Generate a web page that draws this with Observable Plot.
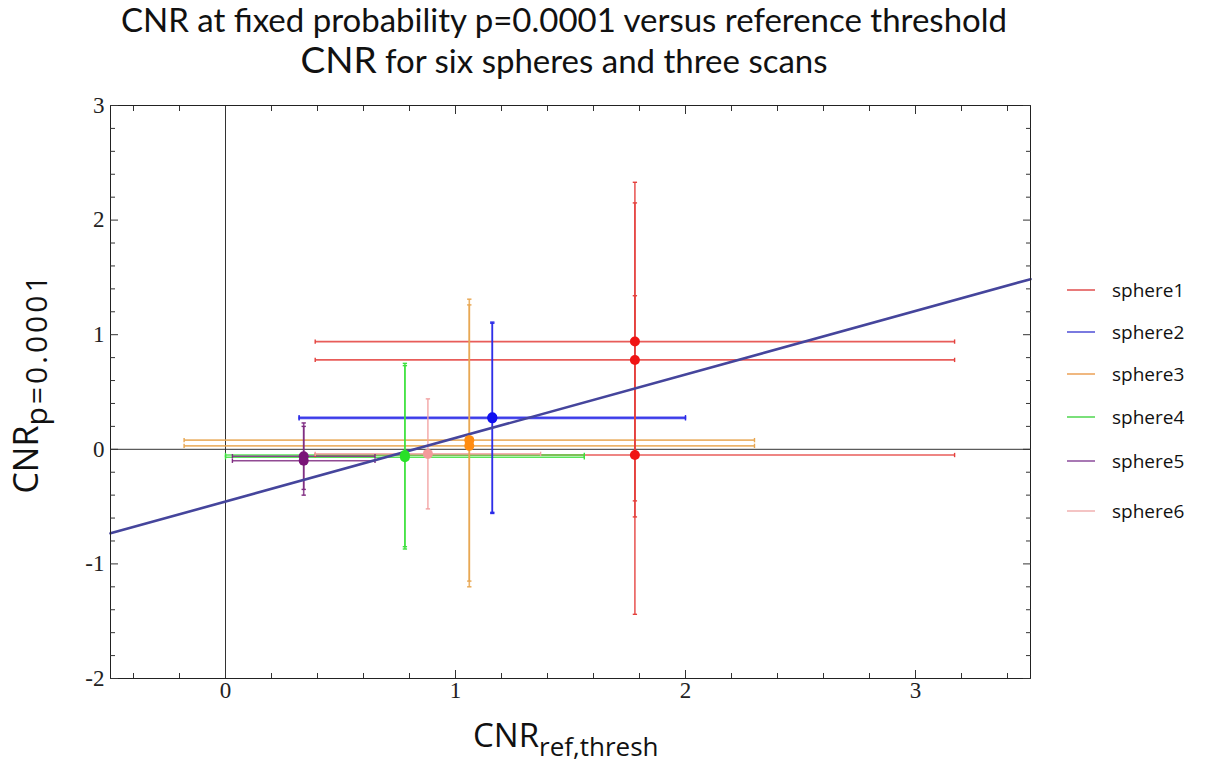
<!DOCTYPE html>
<html><head><meta charset="utf-8">
<script src="https://cdn.jsdelivr.net/npm/d3@7"></script>
<script src="https://cdn.jsdelivr.net/npm/@observablehq/plot@0.6"></script>
<style>
body{margin:0;background:#fff;font-family:"Open Sans",sans-serif;}
#wrap{position:relative;width:1216px;height:767px;overflow:hidden;}
#title{height:80px;width:1216px;padding-right:88px;text-align:center;font-family:Lato,"Open Sans",sans-serif;font-size:33px;color:#111;white-space:nowrap;padding-top:0px;box-sizing:border-box;}
#title div{line-height:39px;height:39px;}
#title .big{font-size:37px;}
#legend{position:absolute;left:1066px;top:276px;font-size:19px;color:#111;}
#legend .row{display:flex;align-items:center;}
#legend svg{margin-right:16px;}
.axlab{position:absolute;font-size:33px;color:#111;white-space:nowrap;line-height:40px;}
#xlab sub{font-size:26px;vertical-align:-9px;}
#ylab{font-size:34px;}
#ylab sub{font-size:30px;vertical-align:-9px;letter-spacing:3px;}
</style></head>
<body>
<div id="wrap">
<div id="title"><div>CNR at fixed probability p=0.0001 versus reference threshold</div><div><span class="big">CNR</span> for six spheres and three scans</div></div>
<div id="chart"></div>
<div id="legend"></div>
<div class="axlab" id="xlab" style="left:473px;top:715px;">CNR<sub>ref,thresh</sub></div>
<div class="axlab" id="ylab" style="left:30px;top:383px;transform:translate(-50%,-50%) rotate(-90deg);">CNR<sub>p=0.0001</sub></div>
</div>
<script>
// ---- data ----
const spheres = ["sphere1", "sphere2", "sphere3", "sphere4", "sphere5", "sphere6"];
const cnrRef = [1.78, 1.16, 1.06, 0.78, 0.34, 0.88];          // x value per sphere
const cnrRefErr = [1.39, 0.84, 1.24, 0.78, 0.31, 0.49];       // x error per sphere
const cnrP = [[0.94, 0.78, -0.05], [0.28, 0.27], [0.08, 0.03], [-0.05, -0.07], [-0.06, -0.10], [-0.04]];
const cnrPErr = [[1.39, 1.37, 1.39], [0.83, 0.83], [1.23, 1.23], [0.80, 0.80], [0.29, 0.30], [0.48]];
const barColors = ["#e4403c", "#2a2ae8", "#e8a650", "#3de03d", "#7e2a80", "#f2a2a2"];
const dotColors = ["#f01414", "#1010f0", "#ff8c10", "#28e028", "#7a1478", "#f49a9a"];
const legendColors = ["#e87a7a", "#7a7ae0", "#f0b880", "#7ae07a", "#a878b4", "#f4c4c4"];
const fitIntercept = -0.456, fitSlope = 0.5545;
const xDomain = [-0.5, 3.5], yDomain = [-2, 3];
const xTicks = [0, 1, 2, 3], yTicks = [-2, -1, 0, 1, 2, 3];

// ---- table ----
const rows = [];
spheres.forEach((s, i) => cnrP[i].forEach((y, j) => rows.push({
  sphere: s, x: cnrRef[i], y, ex: cnrRefErr[i], ey: cnrPErr[i][j], bar: barColors[i], dot: dotColors[i]
})));
const fit = xDomain.map(x => ({x, y: fitIntercept + fitSlope * x}));
const minorX = d3.range(-0.4, 3.5, 0.2).map(v => +v.toFixed(1)).filter(v => !xTicks.includes(v));
const minorY = d3.range(-1.8, 3, 0.2).map(v => +v.toFixed(1)).filter(v => !yTicks.includes(v));
const vCap = {draw(ctx, size) { const r = Math.sqrt(size) / 1.8; ctx.moveTo(0, -r); ctx.lineTo(0, r); }};
const hCap = {draw(ctx, size) { const r = Math.sqrt(size) / 1.8; ctx.moveTo(-r, 0); ctx.lineTo(r, 0); }};
const fmt = d => String(d);

const chart = Plot.plot({
  width: 1216, height: 687,
  marginLeft: 110, marginRight: 186, marginTop: 25, marginBottom: 89,
  x: {domain: xDomain, label: null},
  y: {domain: yDomain, label: null},
  style: {fontFamily: "'Liberation Serif', 'DejaVu Serif', serif", fontSize: "23px", color: "#222"},
  marks: [
    Plot.ruleX([0], {stroke: "#333", strokeWidth: 1}),
    Plot.ruleY([0], {stroke: "#333", strokeWidth: 1}),
    // horizontal error bars
    Plot.link(rows, {x1: d => d.x - d.ex, x2: d => d.x + d.ex, y1: "y", y2: "y", stroke: "bar", strokeWidth: 1.6, strokeOpacity: 0.85}),
    Plot.dot(rows, {x: d => d.x - d.ex, y: "y", symbol: vCap, r: 2.2, stroke: "bar", strokeWidth: 1.4}),
    Plot.dot(rows, {x: d => d.x + d.ex, y: "y", symbol: vCap, r: 2.2, stroke: "bar", strokeWidth: 1.4}),
    // vertical error bars
    Plot.link(rows, {x1: "x", x2: "x", y1: d => d.y - d.ey, y2: d => d.y + d.ey, stroke: "bar", strokeWidth: 1.6, strokeOpacity: 0.85}),
    Plot.dot(rows, {x: "x", y: d => d.y - d.ey, symbol: hCap, r: 2.2, stroke: "bar", strokeWidth: 1.4}),
    Plot.dot(rows, {x: "x", y: d => d.y + d.ey, symbol: hCap, r: 2.2, stroke: "bar", strokeWidth: 1.4}),
    // fit line
    Plot.line(fit, {x: "x", y: "y", stroke: "#45459c", strokeWidth: 2.6}),
    // points
    Plot.dot(rows, {x: "x", y: "y", r: 5, fill: "dot", stroke: "none"}),
    Plot.frame({stroke: "#222", strokeWidth: 1}),
    // axes: labels + inward ticks
    Plot.axisX({anchor: "bottom", ticks: xTicks, tickSize: -8, tickPadding: 11, tickFormat: fmt, label: null, stroke: "#333"}),
    Plot.axisX({anchor: "bottom", ticks: minorX, tickSize: -5, tickFormat: () => "", label: null, stroke: "#333"}),
    Plot.axisX({anchor: "top", ticks: xTicks, tickSize: -8, tickFormat: () => "", label: null, stroke: "#333"}),
    Plot.axisX({anchor: "top", ticks: minorX, tickSize: -5, tickFormat: () => "", label: null, stroke: "#333"}),
    Plot.axisY({anchor: "left", ticks: yTicks, tickSize: -8, tickPadding: 14, tickFormat: fmt, label: null, stroke: "#333"}),
    Plot.axisY({anchor: "left", ticks: minorY, tickSize: -5, tickFormat: () => "", label: null, stroke: "#333"}),
    Plot.axisY({anchor: "right", ticks: yTicks, tickSize: -8, tickFormat: () => "", label: null, stroke: "#333"}),
    Plot.axisY({anchor: "right", ticks: minorY, tickSize: -5, tickFormat: () => "", label: null, stroke: "#333"})
  ]
});
document.getElementById("chart").appendChild(chart);

// legend
const legend = document.getElementById("legend");
const gaps = [0, 42, 42, 43, 44, 50];
spheres.forEach((s, i) => {
  const row = document.createElement("div");
  row.className = "row";
  row.style.marginTop = (i === 0 ? 0 : gaps[i] - 28) + "px";
  row.style.height = "28px";
  row.innerHTML = `<svg width="30" height="4"><line x1="1" x2="29" y1="2" y2="2" stroke="${legendColors[i]}" stroke-width="2"/></svg><span>${s}</span>`;
  legend.appendChild(row);
});
</script>
</body></html>
